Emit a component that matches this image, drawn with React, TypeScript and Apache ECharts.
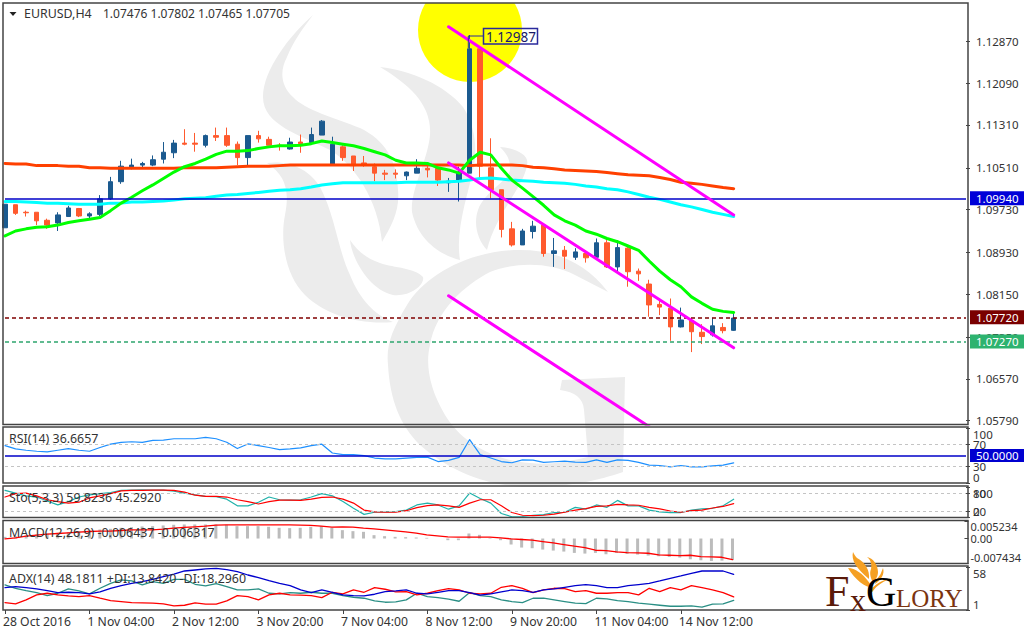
import React, { useEffect, useRef } from "react";
import * as echarts from "echarts";

const FONT = '"Noto Sans", sans-serif';
const tickLabels = ["28 Oct 2016", "1 Nov 04:00", "2 Nov 12:00", "3 Nov 20:00", "7 Nov 04:00", "8 Nov 12:00", "9 Nov 20:00", "11 Nov 04:00", "14 Nov 12:00"];
const priceTicks = [1.0579, 1.0657, 1.0735, 1.0815, 1.0893, 1.0973, 1.1051, 1.1131, 1.1209, 1.1287];

const opens = [
  1.0939, 1.0982, 1.0968, 1.0968, 1.0953, 1.0948, 1.096, 1.0975, 1.0961, 1.0964,
  1.0993, 1.1025, 1.1052, 1.1056, 1.1056, 1.1067, 1.1079, 1.1097, 1.1097, 1.1093,
  1.1111, 1.1111, 1.1095, 1.107, 1.1111, 1.1104, 1.1093, 1.1086, 1.1099, 1.1098,
  1.1112, 1.1058, 1.109, 1.1073, 1.106, 1.1053, 1.1041, 1.1041, 1.1036, 1.1041,
  1.105, 1.105, 1.1023, 1.1028, 1.1041, 1.1273, 1.1051, 1.101, 1.0937, 1.0907,
  1.0932, 1.0944, 1.0891, 1.0897, 1.0884, 1.0891, 1.0884, 1.0911, 1.0866, 1.0901,
  1.0858, 1.0834, 1.0796, 1.0789, 1.0754, 1.0766, 1.0744, 1.0739, 1.0753, 1.07476,
];
const closes = [
  1.0983, 1.0966, 1.0967, 1.0952, 1.0944, 1.0963, 1.0976, 1.0961, 1.0965, 1.0993,
  1.1025, 1.1054, 1.1056, 1.1059, 1.1066, 1.108, 1.1097, 1.1095, 1.1095, 1.1111,
  1.1108, 1.1093, 1.107, 1.1111, 1.1105, 1.1093, 1.1092, 1.1099, 1.1096, 1.1113,
  1.1138, 1.1095, 1.107, 1.1055, 1.1058, 1.1041, 1.1039, 1.1039, 1.1043, 1.105,
  1.1047, 1.1028, 1.1026, 1.1041, 1.1273, 1.1054, 1.101, 1.0936, 1.0907, 1.0933,
  1.0942, 1.0891, 1.0896, 1.0886, 1.0894, 1.0883, 1.0911, 1.0866, 1.0902, 1.0857,
  1.0853, 1.0795, 1.0791, 1.0754, 1.0767, 1.0745, 1.0736, 1.0756, 1.0747, 1.07705,
];
const lows = [
  1.0939, 1.0963, 1.096, 1.0944, 1.0937, 1.0933, 1.096, 1.0959, 1.0957, 1.0961,
  1.0991, 1.1021, 1.1048, 1.1052, 1.1054, 1.1059, 1.1069, 1.1093, 1.1081, 1.1089,
  1.1101, 1.109, 1.1056, 1.1056, 1.1098, 1.1093, 1.1083, 1.1085, 1.1079, 1.1097,
  1.1112, 1.1058, 1.1064, 1.1045, 1.1053, 1.1026, 1.1028, 1.1031, 1.1028, 1.1041,
  1.1033, 1.1017, 1.1006, 1.0988, 1.1041, 1.1032, 1.0994, 1.0921, 1.0904, 1.0907,
  1.0919, 1.0885, 1.0866, 1.0862, 1.0879, 1.0874, 1.0884, 1.0864, 1.0858, 1.0829,
  1.084, 1.0773, 1.0776, 1.0728, 1.0753, 1.0707, 1.0722, 1.0736, 1.0742, 1.07465,
];
const highs = [
  1.0983, 1.0982, 1.0971, 1.0968, 1.0956, 1.0968, 1.098, 1.0976, 1.0968, 1.1,
  1.1034, 1.1064, 1.1068, 1.1062, 1.1074, 1.1099, 1.1103, 1.1123, 1.1116, 1.1113,
  1.1126, 1.1126, 1.11, 1.1111, 1.112, 1.1109, 1.1097, 1.1107, 1.1113, 1.1126,
  1.114, 1.1109, 1.1093, 1.1073, 1.1073, 1.1059, 1.1047, 1.1048, 1.1044, 1.1067,
  1.1054, 1.105, 1.1032, 1.1053, 1.12987, 1.1276, 1.1106, 1.101, 1.095, 1.0937,
  1.0952, 1.0944, 1.092, 1.0905, 1.0901, 1.0897, 1.0919, 1.0916, 1.0916, 1.0903,
  1.0863, 1.0842, 1.0807, 1.0807, 1.079, 1.0771, 1.0759, 1.0771, 1.0761, 1.07802,
];
const maGreen = [
  1.0924, 1.0933, 1.0937, 1.094, 1.0941, 1.0944, 1.0949, 1.0952, 1.0955, 1.0958,
  1.0971, 1.0985, 1.0996, 1.1008, 1.1019, 1.1031, 1.1043, 1.1053, 1.1059, 1.1067,
  1.1076, 1.1082, 1.1082, 1.1083, 1.1087, 1.109, 1.1092, 1.1092, 1.1093, 1.1096,
  1.1101, 1.1098, 1.1095, 1.1092, 1.1087, 1.1081, 1.1075, 1.1065, 1.106, 1.106,
  1.1059, 1.1051, 1.1047, 1.1041, 1.1065, 1.108, 1.1075, 1.105, 1.1028, 1.1013,
  1.0997, 1.0981, 1.0963, 1.0952, 1.0944, 1.0933, 1.0927, 1.0919, 1.0913, 1.0905,
  1.0897, 1.0877, 1.0858, 1.0842, 1.0829, 1.081, 1.0798, 1.0787, 1.0783, 1.0781,
];
const maRed = [
  1.1059, 1.1058, 1.1058, 1.1055, 1.1055, 1.1055, 1.1054, 1.1054, 1.1051, 1.1051,
  1.105, 1.105, 1.105, 1.105, 1.105, 1.105, 1.105, 1.1051, 1.1051, 1.1051,
  1.1051, 1.1052, 1.1053, 1.1054, 1.1054, 1.1054, 1.1055, 1.1056, 1.1056, 1.1056,
  1.1056, 1.1056, 1.1056, 1.1056, 1.1056, 1.1056, 1.1056, 1.1056, 1.1056, 1.1056,
  1.1056, 1.1056, 1.1056, 1.1056, 1.1055, 1.1056, 1.1056, 1.1056, 1.1056, 1.1055,
  1.1052, 1.1051, 1.1049, 1.1047, 1.1046, 1.1045, 1.1044, 1.1042, 1.104, 1.1038,
  1.1037, 1.1036, 1.1033, 1.1029, 1.1024, 1.1022, 1.102, 1.1017, 1.1014, 1.1012,
];
const maCyan = [
  1.0988, 1.0988, 1.0987, 1.0986, 1.0985, 1.0985, 1.0984, 1.0983, 1.0983, 1.0983,
  1.0985, 1.0985, 1.0987, 1.0987, 1.0988, 1.0989, 1.0991, 1.0993, 1.0994, 1.0995,
  1.0998, 1.1, 1.1001, 1.1003, 1.1005, 1.1007, 1.1009, 1.101, 1.1012, 1.1015,
  1.1019, 1.1021, 1.1023, 1.1023, 1.1023, 1.1023, 1.1023, 1.1023, 1.1024, 1.1024,
  1.1024, 1.1024, 1.1025, 1.1026, 1.1028, 1.1031, 1.1032, 1.103, 1.1028, 1.1027,
  1.1026, 1.1024, 1.1023, 1.1022, 1.102, 1.1017, 1.1015, 1.1012, 1.101, 1.1006,
  1.1001, 1.0996, 1.0992, 1.0987, 1.0982, 1.0978, 1.0973, 1.0968, 1.0964, 1.096,
];
const channelUpper = [[42, 1.1314], [69, 1.0963]];
const channelMiddle = [[42, 1.106], [69, 1.0715]];
const channelLower = [[42, 1.0812], [69, 1.0465]];

const rsi = [
  68, 62, 59.5, 57.7, 56.5, 59.5, 62.6, 59.5, 57.7, 64.5,
  70.6, 74, 75, 74, 77.4, 78, 80.5, 80.5, 80.5, 83,
  80.5, 74, 62.6, 71, 68, 64.5, 60.8, 62, 63.8, 68,
  70.6, 54.6, 51.5, 51.5, 49.7, 45.4, 44, 44, 45.4, 46.6,
  47, 39, 41, 46.6, 79, 51.5, 45.4, 39, 36.8, 42,
  41.7, 37.4, 38.6, 39.8, 38, 37.4, 42, 37.4, 42, 41,
  37.4, 32.5, 31.8, 29.4, 31.8, 29.4, 29.4, 31, 32.5, 36.67,
];
const stoMain = [
  89, 80, 71, 67, 54, 41, 52, 67, 74, 78,
  82, 89, 90, 91, 90, 90, 86, 80, 74, 69,
  68, 60, 38, 38, 50, 67, 58, 57, 58, 67,
  78, 71, 52, 30, 10, 17, 18, 19, 24, 41,
  47, 41, 27, 38, 80, 62, 47, 13, 2, 3,
  7, 9, 16, 17, 33, 27, 41, 33, 56, 38,
  38, 24, 18, 16, 16, 24, 28, 30, 38, 59.82,
];
const stoSignal = [
  67, 78, 80, 71, 58, 52, 47, 50, 64, 71,
  78, 87, 89, 89, 90, 90, 89, 83, 73, 69,
  69, 67, 58, 52, 44, 52, 57, 57, 56, 60,
  66, 67, 60, 47, 24, 18, 17, 17, 22, 32,
  39, 41, 38, 33, 47, 58, 58, 38, 16, 7,
  6, 7, 11, 17, 24, 29, 36, 38, 43, 41,
  40, 33, 28, 21, 17, 22, 24, 31, 36, 45.29,
];
const macdHist = [
  0.0005, 0.0007, 0.0009, 0.0012, 0.0015, 0.0017, 0.0019, 0.0022, 0.0024, 0.0027,
  0.0029, 0.0032, 0.0034, 0.0036, 0.0037, 0.0039, 0.0041, 0.0042, 0.0042, 0.0042,
  0.0042, 0.0041, 0.0037, 0.0037, 0.0037, 0.0035, 0.0032, 0.0031, 0.0032, 0.0035,
  0.0037, 0.0032, 0.0025, 0.0022, 0.002, 0.001, 0.0007, 0.0005, 0.0004, 0.0003,
  0.0002, 0, -0.0005, -0.0005, 0.0015, 0.0011, 0.0002, -0.0005, -0.0018, -0.0027,
  -0.0029, -0.0033, -0.0036, -0.0039, -0.0043, -0.0045, -0.0043, -0.0047, -0.0043, -0.0046,
  -0.0048, -0.0051, -0.0053, -0.0055, -0.0057, -0.0062, -0.0065, -0.0067, -0.0066, -0.006437,
];
const macdSignal = [
  -0.0001, 0.0002, 0.0007, 0.001, 0.0013, 0.0015, 0.0017, 0.0019, 0.0021, 0.0022,
  0.0022, 0.0024, 0.0026, 0.0026, 0.0026, 0.0028, 0.0031, 0.0033, 0.0035, 0.0037,
  0.004, 0.0041, 0.0041, 0.0041, 0.0041, 0.0041, 0.0041, 0.0041, 0.004, 0.0039,
  0.0037, 0.0034, 0.0035, 0.0034, 0.0031, 0.0029, 0.0026, 0.0023, 0.002, 0.0016,
  0.0011, 0.0008, 0.0005, 0.0004, 0.0004, 0.0004, 0.0004, 0.0002, -0.0001, -0.0003,
  -0.0005, -0.0009, -0.0013, -0.0018, -0.0023, -0.0027, -0.0035, -0.0036, -0.004, -0.0042,
  -0.0043, -0.0044, -0.0049, -0.005, -0.0051, -0.005, -0.0054, -0.0055, -0.0056, -0.006317,
];
const adxMain = [
  30.7, 32, 30.7, 28.9, 26.7, 24.1, 24.5, 24.1, 22.3, 25,
  29.8, 33.3, 36.4, 38.6, 41.7, 45.2, 48.7, 52.7, 54, 55.4,
  56.2, 54.5, 51.8, 47.4, 43.9, 39.9, 36.4, 33.3, 27.6, 24.1,
  27.6, 24.5, 21, 20.1, 19.7, 21.9, 25.4, 26.3, 27.6, 23.2,
  22.3, 24.5, 26.7, 26.7, 24.1, 20.6, 22.3, 25, 27.6, 26.7,
  24.5, 27.6, 28.9, 31.1, 33.3, 34.7, 33.3, 30.7, 30.7, 33.3,
  34.7, 36.4, 39.5, 43, 46.1, 49.6, 52.7, 52.7, 52.7, 48.18,
];
const plusDI = [
  34.2, 29.8, 26.7, 24.1, 20.1, 23.2, 28.9, 26.3, 22.3, 29.8,
  36.4, 40.8, 39.5, 34.2, 38.6, 36.4, 41.7, 41.7, 35.1, 32.9,
  36, 32, 27.6, 27.6, 28.9, 23.2, 22.3, 24.1, 23.2, 24.5,
  23.2, 23.2, 20.1, 17.9, 16.6, 13.1, 11.3, 11.7, 14.4, 23.2,
  18.8, 17.5, 15.3, 12.6, 24.1, 20.1, 18.8, 14.4, 12.2, 10.9,
  16.6, 16.6, 14.4, 12.2, 10, 9.5, 16.6, 15.7, 13.5, 12.2,
  10, 8.7, 7.3, 6, 6, 6.5, 4.7, 8.7, 9.1, 13.84,
];
const minusDI = [
  10.9, 9.1, 14.4, 21, 23.2, 21, 19.7, 18.8, 20.1, 16.6,
  13.5, 12.2, 10.9, 10.4, 10, 9.1, 6.5, 7.3, 10.4, 8.7,
  8.7, 13.1, 20.1, 18.8, 14.4, 21, 23.2, 21, 20.6, 20.1,
  17.5, 24.5, 22.3, 27.6, 24.5, 30.7, 28.5, 25, 25.4, 21,
  23.2, 26.7, 29.4, 27.6, 23.2, 22.3, 23.2, 31.1, 33.3, 29.8,
  24.1, 27.6, 29.8, 29.4, 25.4, 26.7, 23.2, 23.2, 24.1, 24.1,
  21, 29.8, 25.4, 30.7, 27.6, 33.3, 30.7, 27.6, 24.1, 18.3,
];

const WATERMARK_D =
  "M608 292 C585 262 555 250 520 250 C470 250 425 275 407 305 C392 330 386 345 388 365 C390 400 400 425 420 445 C450 472 490 487 530 487 C570 487 600 480 623 472 L625 377 L562 380 L560 390 C575 392 583 398 584 410 L588 457 C565 462 550 465 530 463 C490 460 460 440 445 415 C430 390 425 365 430 345 C436 310 465 285 490 272 C515 262 550 262 575 275 Z " +
  "M313 15 C290 35 263 70 263 97 C263 125 300 135 330 150 C355 165 378 200 382 242 C392 225 400 210 398 190 C397 160 385 140 360 128 C335 118 305 110 293 97 C280 85 280 70 287 57 C293 42 303 28 313 15 Z " +
  "M380 67 C410 70 445 85 463 107 C475 125 478 150 473 170 C468 195 455 230 460 260 C440 255 418 240 412 212 C410 190 428 160 430 135 C432 105 410 85 380 67 Z " +
  "M500 147 C515 148 530 155 527 165 C525 185 495 215 487 250 C478 240 473 225 478 210 C485 190 512 180 510 167 C510 158 505 152 500 147 Z " +
  "M267 163 C290 160 310 170 320 187 C335 215 338 250 350 275 C360 300 375 315 393 322 C360 325 325 315 305 295 C285 275 280 240 285 215 C290 190 285 175 267 163 Z " +
  "M350 240 C352 260 370 290 393 295 C410 297 425 285 423 277 C415 268 395 268 380 263 C365 258 357 250 350 240 Z";
const FLAME_D =
  "M853 552 C851 560 856 568 869 579 C870 570 865 562 857 558 C855 556 854 554 853 552 Z " +
  "M867 557 C873 558 878 565 878 572 C878 577 875 580 873 583 C871 578 869 574 871 569 C872 565 871 560 867 557 Z " +
  "M883 568 C885 574 881 580 875 584 C876 579 880 576 881 573 Z " +
  "M848 568 C855 568 863 574 868 581 C870 584 872 586 873 588 C865 587 855 580 848 568 Z " +
  "M868 596 C870 587 880 580 892 578 C884 581 876 586 873 591 Z";

echarts.graphic.registerShape("fxWatermark", echarts.graphic.extendPath(WATERMARK_D, {}));
echarts.graphic.registerShape("fxFlame", echarts.graphic.extendPath(FLAME_D, {}));

const GRID_LEFT = 5;
const GRID_WIDTH = 961;
const BAR_COUNT = 92;
const categories = Array.from({ length: BAR_COUNT }, (_, i) => (i % 8 === 0 && tickLabels[i / 8]) || "");
const isTick = (i: number) => i % 8 === 0 && i <= 64;

const panels = [
  { left: GRID_LEFT, top: 3, height: 421 },
  { left: GRID_LEFT, top: 428, height: 55 },
  { left: GRID_LEFT, top: 487, height: 30.4 },
  { left: GRID_LEFT, top: 521, height: 42.4 },
  { left: GRID_LEFT, top: 567, height: 43 },
  { left: GRID_LEFT - 2, top: 567, height: 43 },
];

const lineSeries = (name: string, data: any, color: string, width: number, index: number, extra: any = {}) => ({
  name,
  type: "line",
  data,
  xAxisIndex: index,
  yAxisIndex: index,
  symbol: "none",
  silent: true,
  lineStyle: { color, width, cap: "round", join: "round" },
  ...extra,
});

const priceLevel = (value: number, text: string, color: string, box: string, type: any) => ({
  yAxis: value,
  lineStyle: { color, width: 1.5, type },
  label: {
    show: true,
    position: "end",
    distance: 4,
    formatter: text,
    color: "#fff",
    backgroundColor: box,
    fontFamily: FONT,
    fontSize: 11.5,
    lineHeight: 14,
    padding: [0, 8, 0, 6],
  },
});

const dashLevel = (value: number) => ({
  yAxis: value,
  lineStyle: { color: "#c4c4c4", width: 1, type: [3, 3] },
  label: { show: false },
});

function marks(data: any[]) {
  return { silent: true, symbol: "none", animation: false, precision: 6, data };
}

const frame = (x: number, y: number, w: number, h: number) => ({
  type: "rect",
  silent: true,
  z: 30,
  shape: { x, y, width: w, height: h },
  style: { fill: "none", stroke: "#444", lineWidth: 1.5 },
});

const overlay = (x: number, y: number, text: string, font = `12.4px ${FONT}`, fill = "#333") => ({
  type: "text",
  silent: true,
  z: 40,
  x,
  y,
  style: { text, fill, font, textVerticalAlign: "middle", verticalAlign: "middle" },
});

function buildOption() {
  const yBase = {
    position: "right",
    scale: true,
    axisLine: { show: false },
    splitLine: { show: false },
    axisTick: { show: true, length: 4, inside: false, lineStyle: { color: "#444" } },
  };
  const labelBase = { color: "#333", fontFamily: FONT, fontSize: 11.5, hideOverlap: false };
  const panelAxis = (gridIndex: number, min: number, max: number, values: number[], label: any = {}) => ({
    ...yBase,
    gridIndex,
    min,
    max,
    axisTick: { ...yBase.axisTick, customValues: values },
    axisLabel: { ...labelBase, margin: 7, customValues: values, ...label },
  });
  const edgeAlign = { showMinLabel: true, showMaxLabel: true, verticalAlignMinLabel: "bottom", verticalAlignMaxLabel: "top" };
  const macdLabel = { fontSize: 11, margin: 6, formatter: (v: number) => (v === 0 ? "0.00" : v.toFixed(6)) };

  return {
    animation: false,
    backgroundColor: "#fff",
    grid: panels.map((p) => ({ left: p.left, width: GRID_WIDTH, top: p.top, height: p.height, containLabel: false })),
    xAxis: panels.map((_, i) => ({
      type: "category",
      gridIndex: i,
      data: categories,
      boundaryGap: false,
      axisLine: { show: false },
      splitLine: { show: false },
      axisTick: { show: i === 4, length: 4, interval: (idx: number) => isTick(idx), lineStyle: { color: "#444" } },
      axisLabel: {
        show: i === 5,
        interval: (idx: number) => isTick(idx),
        align: "left",
        margin: 5,
        color: "#333",
        fontFamily: FONT,
        fontSize: 12.2,
        hideOverlap: false,
        showMinLabel: true,
        showMaxLabel: true,
      },
    })),
    yAxis: [
      {
        ...yBase,
        gridIndex: 0,
        min: 1.05728,
        max: 1.13585,
        axisTick: { ...yBase.axisTick, customValues: priceTicks },
        axisLabel: { ...labelBase, margin: 10, customValues: priceTicks, formatter: (v: number) => v.toFixed(5) },
      },
      panelAxis(1, 0, 100, [0, 100], edgeAlign),
      panelAxis(2, 0, 100, [0, 100], edgeAlign),
      panelAxis(3, -0.007434, 0.005234, [-0.007434, 0.005234], { ...edgeAlign, ...macdLabel }),
      panelAxis(4, 1, 58, [1, 58], edgeAlign),
      { gridIndex: 5, show: false, min: 0, max: 1 },
      panelAxis(1, 0, 100, [30, 70]),
      panelAxis(2, 0, 100, [20, 80]),
      panelAxis(3, -0.007434, 0.005234, [0], macdLabel),
    ],
    series: [
      {
        name: "EURUSD",
        type: "candlestick",
        xAxisIndex: 0,
        yAxisIndex: 0,
        silent: true,
        clip: false,
        barWidth: 5,
        data: opens.map((o, i) => [o, closes[i], lows[i], highs[i]]),
        itemStyle: { color: "#1b5a8f", color0: "#ff5a2e", borderColor: "#1b5a8f", borderColor0: "#ff5a2e", borderWidth: 1 },
      },
      lineSeries("MA slow", maRed, "#ff4000", 3, 0, { z: 3 }),
      lineSeries("MA mid", maCyan, "#00ffff", 3, 0, {
        z: 3,
        markLine: marks([
          priceLevel(1.0994, "1.09940", "#0000c8", "#0000d8", "solid"),
          priceLevel(1.0772, "1.07720", "#800000", "#7a0000", [4, 3]),
          priceLevel(1.0727, "1.07270", "#2ea56e", "#2db36f", [4, 3]),
        ]),
      }),
      lineSeries("MA fast", maGreen, "#00ff00", 3, 0, { z: 4 }),
      lineSeries("Channel upper", channelUpper, "#ff00ff", 3, 0, { z: 5 }),
      lineSeries("Channel middle", channelMiddle, "#ff00ff", 3, 0, { z: 5 }),
      lineSeries("Channel lower", channelLower, "#ff00ff", 3, 0, { z: 5 }),

      lineSeries("RSI(14)", rsi, "#1e90ff", 1.2, 1, {
        markLine: marks([
          dashLevel(70),
          dashLevel(30),
          {
            yAxis: 50,
            lineStyle: { color: "#0000c8", width: 1.5, type: "solid" },
            label: {
              show: true,
              position: "end",
              distance: 4,
              formatter: "50.0000",
              color: "#fff",
              backgroundColor: "#0000d0",
              fontFamily: FONT,
              fontSize: 11.5,
              lineHeight: 13,
              padding: [0, 8, 0, 6],
            },
          },
        ]),
      }),

      lineSeries("Sto main", stoMain, "#20b2aa", 1.2, 2, { markLine: marks([dashLevel(80), dashLevel(20)]) }),
      lineSeries("Sto signal", stoSignal, "#ff0000", 1.2, 2),

      { name: "MACD", type: "bar", xAxisIndex: 3, yAxisIndex: 3, silent: true, barWidth: 3, data: macdHist, itemStyle: { color: "#bcbcbc" } },
      lineSeries("MACD signal", macdSignal, "#ff0000", 1.3, 3),

      lineSeries("+DI", plusDI, "#2a8f85", 1.3, 4),
      lineSeries("-DI", minusDI, "#ff0000", 1.3, 4),
      lineSeries("ADX(14)", adxMain, "#0000cd", 1.3, 4),
    ],
    graphic: {
      elements: [
        { type: "fxWatermark", silent: true, x: 0, y: 0, z: -1, style: { fill: "#ececec" } },
        { type: "circle", silent: true, z: 1, shape: { cx: 470, cy: 30, r: 52 }, style: { fill: "#ffff00" } },
        { type: "rect", silent: true, z: 1, shape: { x: 400, y: 0, width: 140, height: 3 }, style: { fill: "#fff" } },
        frame(3, 3, 965, 421.5),
        frame(3, 427, 965, 56),
        frame(3, 486, 965, 31.5),
        frame(3, 520.5, 965, 43),
        frame(3, 566, 965, 44),
        { type: "polygon", silent: true, z: 40, shape: { points: [[9.5, 12], [16.5, 12], [13, 16]] }, style: { fill: "#222" } },
        overlay(24, 13.5, "EURUSD,H4"),
        overlay(103, 13.5, "1.07476 1.07802 1.07465 1.07705", `12px ${FONT}`),
        overlay(9, 438, "RSI(14) 36.6657"),
        overlay(9, 497.5, "Sto(5,3,3) 59.8236 45.2920"),
        overlay(9, 532, "MACD(12,26,9) -0.006437 -0.006317"),
        overlay(9, 578, "ADX(14) 48.1811 +DI:13.8420 -DI:18.2960"),
        {
          type: "polyline",
          silent: true,
          z: 6,
          shape: { points: [[468.3, 48], [468.3, 36], [483.5, 36]] },
          style: { stroke: "#2a2a9c", lineWidth: 1, fill: "none" },
        },
        {
          type: "rect",
          silent: true,
          z: 6,
          shape: { x: 483.5, y: 28.5, width: 54, height: 15.5 },
          style: { fill: "rgba(255,255,255,0)", stroke: "#2a2a9c", lineWidth: 1.5 },
        },
        overlay(486, 36.5, "1.12987", `13.5px ${FONT}`, "#1a1a66"),
        { type: "fxFlame", silent: true, x: 0, y: 0, z: 41, style: { fill: "#f5a023" } },
        overlay(825, 591, "F", `44px "Liberation Serif", serif`, "#5a1a0a"),
        overlay(850, 600, "x", `32px "Liberation Serif", serif`, "#5a1a0a"),
        {
          type: "text",
          silent: true,
          z: 42,
          x: 866,
          y: 592,
          style: {
            text: "G",
            font: `42px "Liberation Serif", serif`,
            verticalAlign: "middle",
            fill: new echarts.graphic.LinearGradient(0, 0, 0, 1, [
              { offset: 0, color: "#f5a023" },
              { offset: 1, color: "#a8490f" },
            ]),
          },
        },
        overlay(896, 598, "LORY", `25px "Liberation Serif", serif`, "#7a3410"),
      ],
    },
  };
}

export default function App() {
  const ref = useRef<HTMLDivElement>(null);
  useEffect(() => {
    const chart = echarts.init(ref.current!, undefined, { renderer: "svg" });
    chart.setOption(buildOption() as any);
    return () => chart.dispose();
  }, []);
  return <div ref={ref} style={{ position: "fixed", left: 0, top: 0, width: 1024, height: 636, background: "#fff" }} />;
}
